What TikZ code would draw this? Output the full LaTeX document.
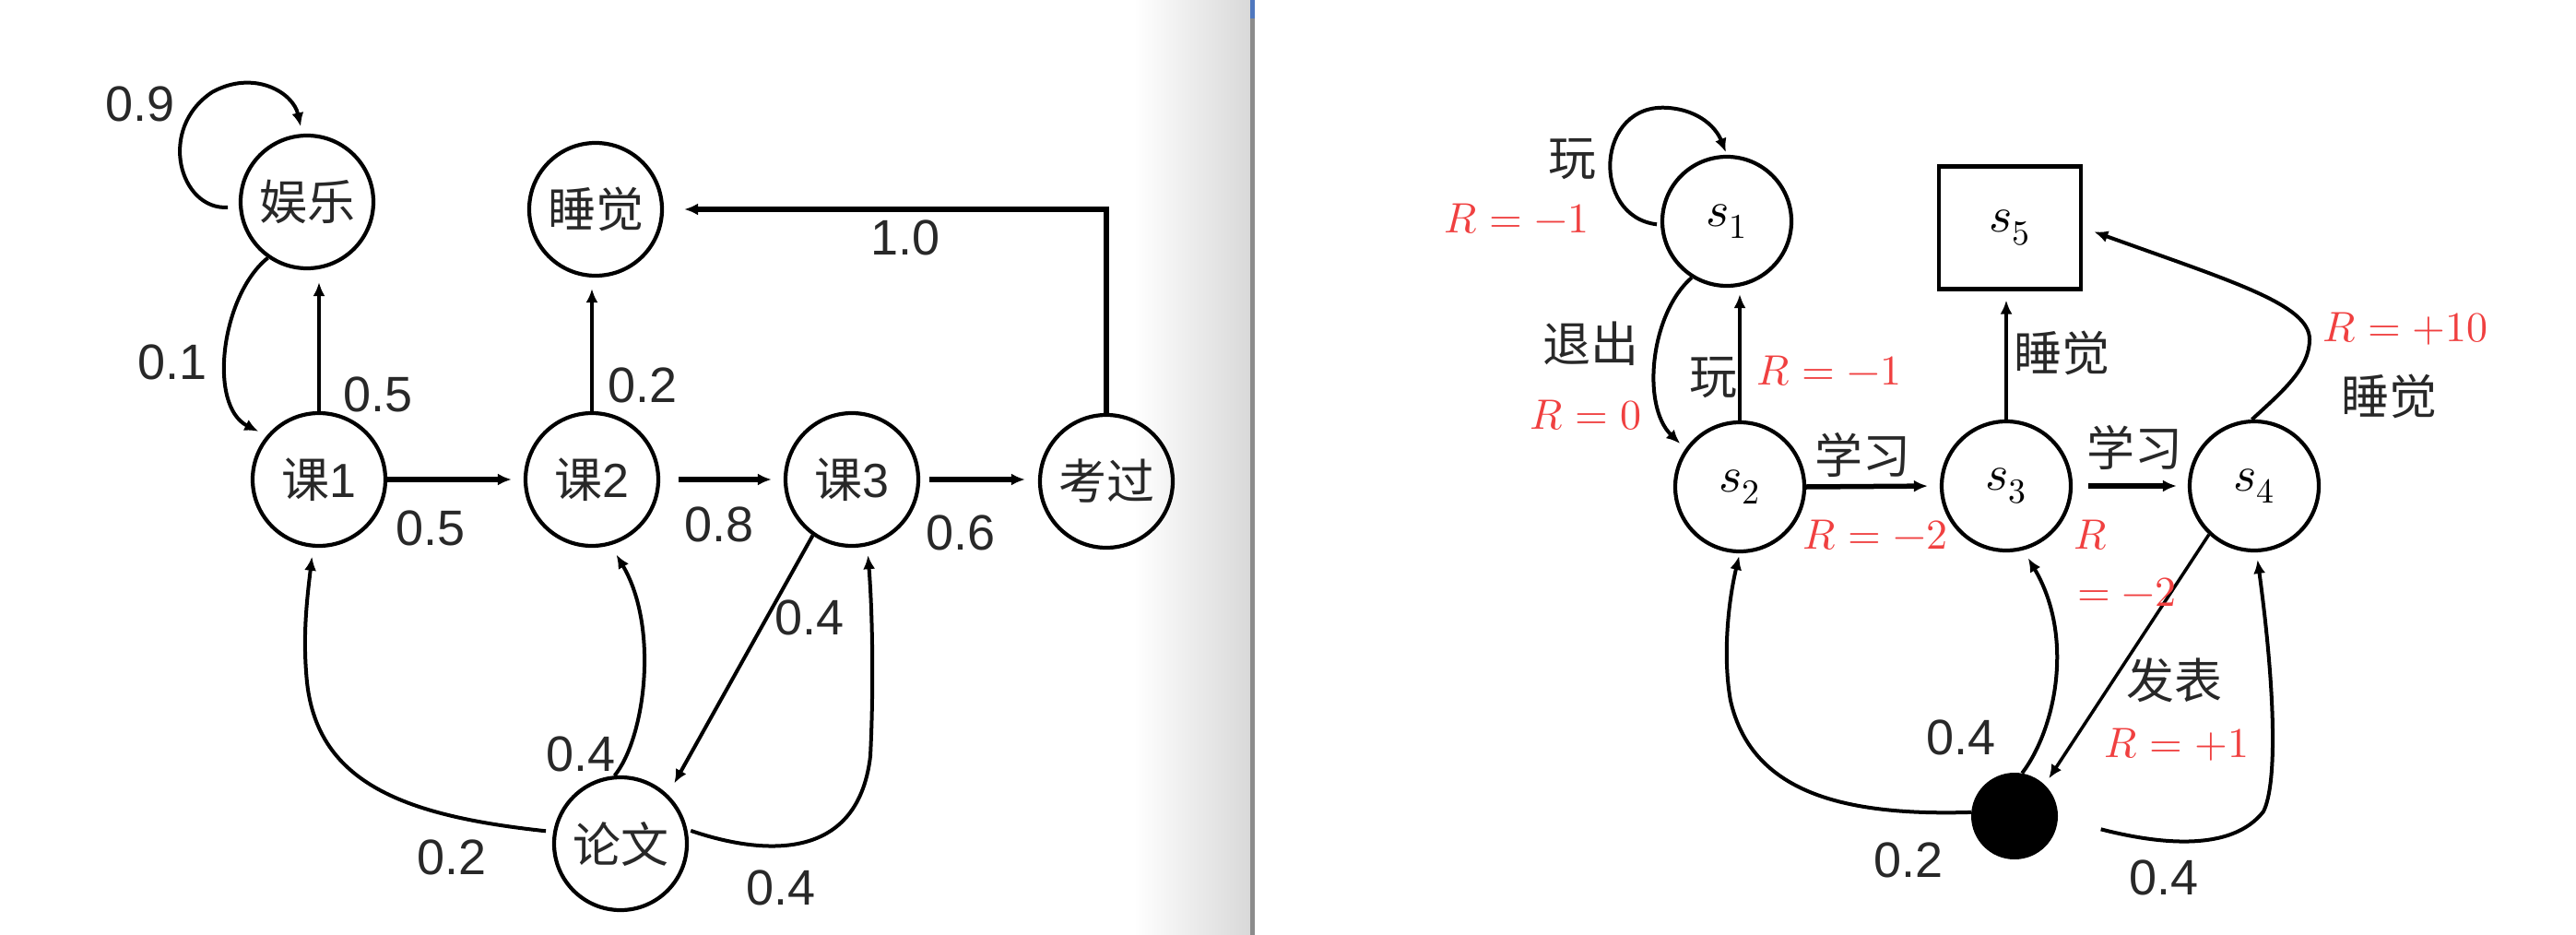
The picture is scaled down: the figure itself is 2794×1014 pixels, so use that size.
\documentclass[tikz,border=0pt]{standalone}
\usepackage{fontspec}
\usepackage{unicode-math}
\setmainfont{Liberation Sans}
\setmathfont{Latin Modern Math}
\newfontfamily\cjk{Noto Sans CJK SC}
\usetikzlibrary{arrows.meta}
\definecolor{rewardred}{RGB}{240,64,64}
\definecolor{inkgray}{RGB}{40,40,40}
\definecolor{barblue}{RGB}{80,120,190}
\begin{document}
\begin{tikzpicture}[x=1pt,y=-1pt,
  stnode/.style={circle,draw,line width=4.2pt,minimum size=144pt,inner sep=0pt,
    text=inkgray,font=\cjk\fontsize{52}{60}\selectfont},
  mnode/.style={circle,draw,line width=4.2pt,minimum size=140pt,inner sep=0pt,
    font=\fontsize{54}{60}\selectfont},
  conn/.style={line width=4pt,-{Latex[length=15pt,width=13pt]}},
  boldconn/.style={conn,line width=5.5pt},
  num/.style={inner sep=0pt,text=inkgray,font=\fontsize{54}{60}\selectfont},
  act/.style={inner sep=0pt,text=inkgray,font=\cjk\fontsize{52}{60}\selectfont},
  rew/.style={inner sep=0pt,text=rewardred,font=\fontsize{46}{56}\selectfont},
]
% canvas and window divider
\useasboundingbox (0,0) rectangle (2794,1014);
\fill[white] (0,0) rectangle (2794,1014);
\shade[left color=white,right color=black!15] (1230,0) rectangle (1356,1014);
\fill[black!45] (1356,0) rectangle (1361,1014);
\fill[barblue] (1356,0) rectangle (1361,20);

% ---------------- Markov reward chain (left) ----------------
\node[stnode] (yule) at (333,219) {娱乐};
\node[stnode] (shuijiao) at (646,227) {睡觉};
\node[stnode] (k1) at (346,520) {课\fontspec{Liberation Sans}1};
\node[stnode] (k2) at (642,520) {课\fontspec{Liberation Sans}2};
\node[stnode] (k3) at (924,520) {课\fontspec{Liberation Sans}3};
\node[stnode] (kaoguo) at (1200,522) {考过};
\node[stnode] (lunwen) at (673,915) {论文};

\draw[conn,shorten <=12pt,shorten >=8pt] (yule.184)
  .. controls (195,228) and (170,140) .. (230,100)
  .. controls (275,75) and (318,100) .. (yule.94);
\draw[conn,shorten >=10pt] (yule.235) .. controls (240,320) and (225,440) .. (k1.140);
\draw[conn,shorten >=13pt] (k1.north) -- (k1.north |- yule.south);
\draw[boldconn,shorten >=13pt] (k1.east) -- (k2.west);
\draw[boldconn,shorten <=20pt,shorten >=13pt] (k2.east) -- (k3.west);
\draw[boldconn,shorten <=10pt,shorten >=14pt] (k3.east) -- (kaoguo.west |- k3.east);
\draw[conn,shorten >=12pt] (k2.north) -- (k2.north |- shuijiao.south);
\draw[boldconn,shorten >=22pt] (kaoguo.north) |- (shuijiao.east);
\draw[conn,shorten >=14pt] (k3.235) -- (lunwen.46);
\draw[conn,shorten <=8pt,shorten >=10pt] (lunwen.170)
  .. controls (440,885) and (345,850) .. (333,740)
  .. controls (328,690) and (333,650) .. (k1.265);
\draw[conn,shorten >=12pt] (lunwen.95) .. controls (700,800) and (715,680) .. (k2.-74);
\draw[conn,shorten <=4pt,shorten >=10pt] (lunwen.12)
  .. controls (820,925) and (930,940) .. (944,820)
  .. controls (948,740) and (946,660) .. (k3.-77);

\node[num] (p09) at (152,113) {0.9};
\node[num] (p01) at (187,393) {0.1};
\node[num] (p05a) at (410,428) {0.5};
\node[num] (p05b) at (467,573) {0.5};
\node[num] (p02a) at (697,418) {0.2};
\node[num] (p10) at (982,258) {1.0};
\node[num] (p08) at (780,569) {0.8};
\node[num] (p06) at (1042,578) {0.6};
\node[num] (p04a) at (878,670) {0.4};
\node[num] (p04b) at (630,818) {0.4};
\node[num] (p02b) at (490,930) {0.2};
\node[num] (p04c) at (847,963) {0.4};

% ---------------- Markov decision process (right) ----------------
\node[mnode] (s1) at (1873,240) {$s_1$};
\node[draw,line width=4.2pt,minimum width=154pt,minimum height=133pt,inner sep=0pt,
  font=\fontsize{54}{60}\selectfont] (s5) at (2180,247) {$s_5$};
\node[mnode] (s2) at (1887,528) {$s_2$};
\node[mnode] (s3) at (2176,527) {$s_3$};
\node[mnode] (s4) at (2445,527) {$s_4$};
\node[circle,fill=black,minimum size=94pt,inner sep=0pt] (chance) at (2185,885) {};

\draw[conn,shorten <=4pt,shorten >=3pt] (s1.183)
  .. controls (1725,235) and (1730,110) .. (1810,117)
  .. controls (1845,120) and (1862,140) .. (s1.north);
\draw[conn,shorten >=8pt] (s1.238) .. controls (1790,340) and (1780,440) .. (s2.145);
\draw[conn,shorten >=7pt] (s2.north) -- (s2.north |- s1.south);
\draw[boldconn,shorten >=13pt] (s2.east) -- (s3.west);
\draw[conn,shorten >=10pt] (s3.north) -- (s3.north |- s5.south);
\draw[boldconn,shorten <=17pt,shorten >=12pt] (s3.east) -- (s4.west);
\draw[conn,shorten >=13pt] (s4.92)
  .. controls (2475,425) and (2505,400) .. (2505,368)
  .. controls (2505,330) and (2420,305) .. (s5.east);
\draw[conn,line width=3.5pt,shorten >=8pt] (s4.227) -- (chance.46);
\draw[conn,shorten >=3pt] (chance.175)
  .. controls (2000,885) and (1900,860) .. (1877,760)
  .. controls (1868,710) and (1875,650) .. (s2.south);
\draw[conn,shorten >=10pt] (chance.80) .. controls (2230,790) and (2250,690) .. (s3.-75);
\draw[conn,shorten <=48pt,shorten >=8pt] (chance.-3)
  .. controls (2340,915) and (2420,925) .. (2455,880)
  .. controls (2470,850) and (2468,750) .. (s4.-88);

\node[act] (a1) at (1705,173) {玩};
\node[rew] (r1) at (1645,237) {$R=-1$};
\node[act] (a2) at (1725,373) {退出};
\node[rew] (r2) at (1720,450) {$R=0$};
\node[act] (a3) at (1858,410) {玩};
\node[rew] (r3) at (1984,402) {$R=-1$};
\node[act] (a4) at (2020,493) {学习};
\node[rew] (r4) at (2034,580) {$R=-2$};
\node[act] (a5) at (2236,383) {睡觉};
\node[act] (a6) at (2315,485) {学习};
\node[rew] (r5a) at (2267,580) {$R$};
\node[rew] (r5b) at (2307,642) {$=-2$};
\node[rew] (r6) at (2609,357) {$R=+10$};
\node[act] (a7) at (2591,430) {睡觉};
\node[act] (a8) at (2358,738) {发表};
\node[rew] (r7) at (2361,808) {$R=+1$};
\node[num] (q1) at (2127,800) {0.4};
\node[num] (q2) at (2070,933) {0.2};
\node[num] (q3) at (2347,952) {0.4};
\end{tikzpicture}
\end{document}
